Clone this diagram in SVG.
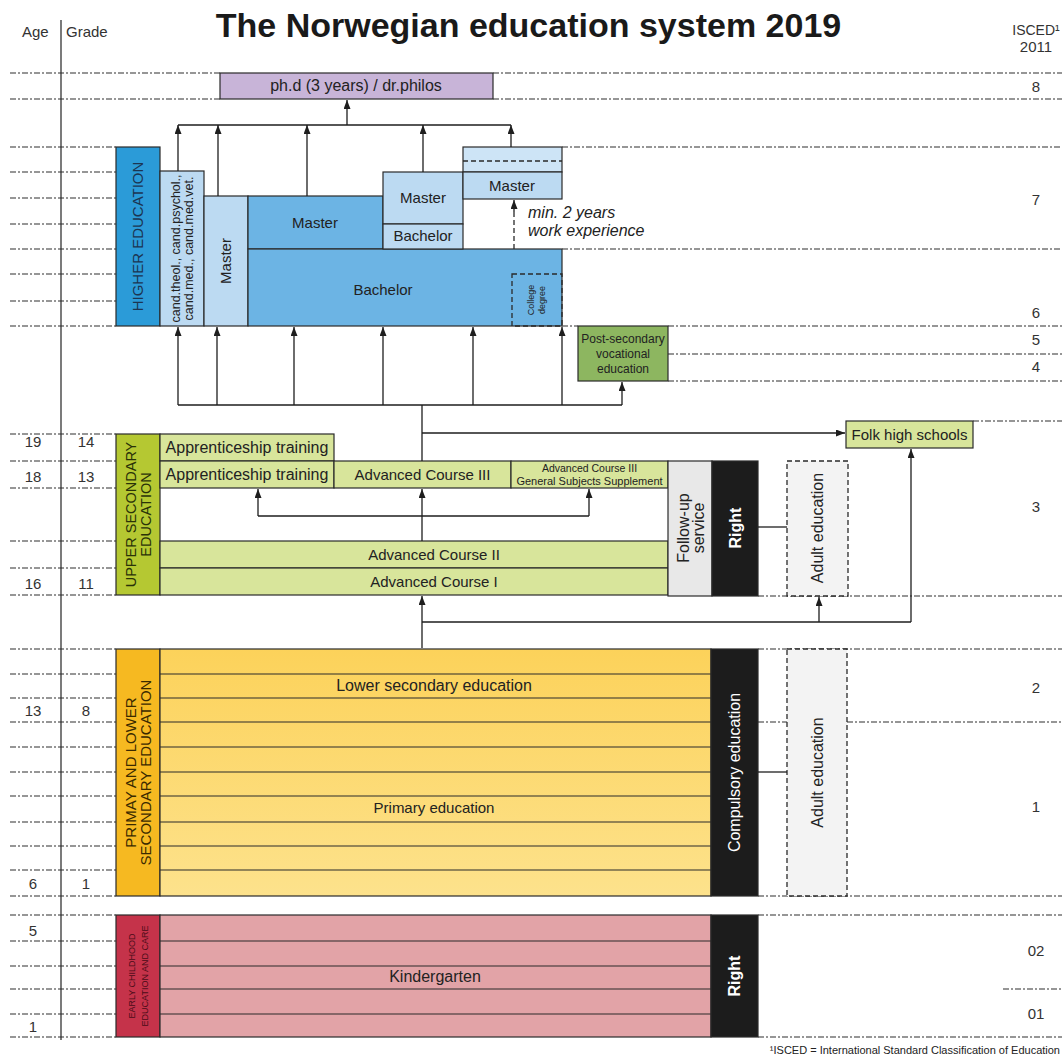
<svg xmlns="http://www.w3.org/2000/svg" width="1062" height="1059" viewBox="0 0 1062 1059">
<defs>
<marker id="ah" viewBox="0 0 9 7" refX="9" refY="3.5" markerWidth="9" markerHeight="7" markerUnits="userSpaceOnUse" orient="auto"><path d="M0,0 L9,3.5 L0,7 z" fill="#1e1e1e"/></marker>
<linearGradient id="ygrad" x1="0" y1="0" x2="0" y2="1"><stop offset="0" stop-color="#fcd25a"/><stop offset="1" stop-color="#fde28c"/></linearGradient>
</defs>
<style>
text{font-family:"Liberation Sans",Arial,sans-serif;fill:#222}
.b{stroke:#2a2a2a;stroke-width:1.2}
.dsh{stroke:#2a2a2a;stroke-width:1.3;stroke-dasharray:5 3}
.grid{stroke:#2e2e2e;stroke-width:1.2;stroke-dasharray:6 2 2 2;fill:none}
.c{stroke:#1e1e1e;stroke-width:1.3;fill:none}
.ca{stroke:#1e1e1e;stroke-width:1.3;fill:none;marker-end:url(#ah)}
.m{text-anchor:middle;font-size:15px}
.w{fill:#fff;font-weight:bold}
.num{font-size:15px;text-anchor:middle;fill:#333}
.lb{fill:#bcdaf2}
.mb{fill:#6cb4e4}
.yg{fill:#d8e59b}
.blk{fill:#1c1c1c}
.ad{fill:#f3f3f3}
.kg{fill:#e2a3a7}
</style>
<rect width="1062" height="1059" fill="#fff"/>

<g id="header">
<text x="528.5" y="37" text-anchor="middle" style="font-size:34px;font-weight:bold;fill:#1a1a1a">The Norwegian education system 2019</text>
<text x="22" y="37" style="font-size:15px;fill:#333">Age</text>
<text x="66" y="37" style="font-size:15px;fill:#333">Grade</text>
<text x="1036" y="35" text-anchor="middle" style="font-size:14px;fill:#333">ISCED¹</text>
<text x="1036" y="52" text-anchor="middle" style="font-size:15px;fill:#333">2011</text>
<line x1="61" y1="20" x2="61" y2="1040" stroke="#333" stroke-width="1.3"/>
</g>

<g id="grid">
<path class="grid" d="M10,73H220M10,99H220M493,73H1062M493,99H1062
M10,147H116M10,172H116M10,198H116M10,224H116M10,249H116M10,274H116M10,301H116M10,326H116
M562,147H1062M562,249H1062M562,326H578M668,326H1062M668,354H1062M668,381H1062
M10,434H116M10,461H116M10,488H116M10,541H116M10,568H116M10,595H116M973,421H1062M758,596H1062
M10,649H116M10,674H116M10,698H116M10,722H116M10,747H116M10,772H116M10,796H116M10,822H116M10,846H116M10,870H116M10,896H116
M758,649H1062M758,722H787M847,722H1062M758,896H1062
M10,915H116M10,941H116M10,966H116M10,989H116M10,1014H116M10,1037H116
M758,915H1062M1003,989H1062M758,1037H1062"/>
</g>

<g id="labels-left">
<text class="num" x="33" y="447">19</text><text class="num" x="86" y="447">14</text>
<text class="num" x="33" y="482">18</text><text class="num" x="86" y="482">13</text>
<text class="num" x="33" y="589">16</text><text class="num" x="86" y="589">11</text>
<text class="num" x="33" y="716">13</text><text class="num" x="86" y="716">8</text>
<text class="num" x="33" y="889">6</text><text class="num" x="86" y="889">1</text>
<text class="num" x="33" y="936">5</text>
<text class="num" x="33" y="1032">1</text>
</g>

<g id="labels-isced">
<text class="num" x="1036" y="92">8</text>
<text class="num" x="1036" y="205">7</text>
<text class="num" x="1036" y="318">6</text>
<text class="num" x="1036" y="345">5</text>
<text class="num" x="1036" y="372">4</text>
<text class="num" x="1036" y="512">3</text>
<text class="num" x="1036" y="693">2</text>
<text class="num" x="1036" y="812">1</text>
<text class="num" x="1036" y="956">02</text>
<text class="num" x="1036" y="1019">01</text>
</g>

<g id="phd">
<rect x="220" y="73" width="273" height="26" fill="#c8b4d8" class="b"/>
<text class="m" x="356" y="91" style="font-size:16px">ph.d (3 years) / dr.philos</text>
</g>

<g id="higher-education-label">
<rect x="116" y="147" width="44" height="179" fill="#2b9bd8" class="b"/>
<text transform="translate(138,236.5) rotate(-90)" dy="0.35em" class="m" style="fill:#1c3552">HIGHER EDUCATION</text>
</g>

<g id="cand">
<rect x="160" y="171" width="44" height="155" class="b lb"/>
<text transform="translate(182,248.5) rotate(-90)" class="m" style="font-size:12.5px"><tspan x="0" dy="-2">cand.theol., cand.psychol.,</tspan><tspan x="0" dy="13">cand.med., cand.med.vet.</tspan></text>
</g>

<g id="master-integrated">
<rect x="204" y="196" width="44" height="130" class="b lb"/>
<text transform="translate(226,261) rotate(-90)" dy="0.35em" class="m">Master</text>
</g>

<g id="master-2yr">
<rect x="248" y="196" width="135" height="53" class="b mb"/>
<text class="m" x="315" y="228">Master</text>
</g>

<g id="bachelor">
<rect x="248" y="249" width="314" height="77" class="b mb"/>
<text class="m" x="383" y="295">Bachelor</text>
</g>

<g id="college-degree">
<rect x="512" y="274" width="50" height="52" fill="none" class="dsh"/>
<text transform="translate(536,300) rotate(-90)" class="m" style="font-size:9px"><tspan x="0" dy="-2">College</tspan><tspan x="0" dy="11">degree</tspan></text>
</g>

<g id="master-bachelor-stack">
<rect x="383" y="172" width="80" height="52" class="b lb"/>
<text class="m" x="423" y="203">Master</text>
<rect x="383" y="224" width="80" height="25" class="b lb"/>
<text class="m" x="423" y="241">Bachelor</text>
</g>

<g id="master-experience">
<rect x="463" y="147" width="99" height="25" fill="#cde4f6" class="b"/>
<line x1="463" y1="161" x2="562" y2="161" class="dsh"/>
<rect x="463" y="172" width="99" height="27" class="b lb"/>
<text class="m" x="512" y="191">Master</text>
<text x="528" y="218" style="font-size:16px;font-style:italic">min. 2 years</text>
<text x="528" y="236" style="font-size:16px;font-style:italic">work experience</text>
</g>

<g id="post-secondary">
<rect x="578" y="326" width="90" height="55" fill="#8db660" class="b"/>
<text class="m" x="623" y="343" style="font-size:12px">Post-secondary</text>
<text class="m" x="623" y="358" style="font-size:12px">vocational</text>
<text class="m" x="623" y="373" style="font-size:12px">education</text>
</g>

<g id="upper-secondary-label">
<rect x="116" y="434" width="44" height="161" fill="#b5c832" class="b"/>
<text transform="translate(138,514.5) rotate(-90)" class="m" style="font-size:14.5px;fill:#2a3208"><tspan x="0" dy="-2.5">UPPER SECONDARY</tspan><tspan x="0" dy="15">EDUCATION</tspan></text>
</g>

<g id="apprenticeship-2">
<rect x="160" y="434" width="174" height="27" class="b yg"/>
<text class="m" x="247" y="453" style="font-size:16px">Apprenticeship training</text>
</g>
<g id="apprenticeship-1">
<rect x="160" y="461" width="174" height="27" class="b yg"/>
<text class="m" x="247" y="480" style="font-size:16px">Apprenticeship training</text>
</g>
<g id="advanced-course-3">
<rect x="334" y="461" width="177" height="27" class="b yg"/>
<text class="m" x="422.5" y="480">Advanced Course III</text>
</g>
<g id="advanced-course-3-gss">
<rect x="511" y="461" width="157" height="27" class="b yg"/>
<text class="m" x="589.5" y="472" style="font-size:10.5px">Advanced Course III</text>
<text class="m" x="589.5" y="485" style="font-size:11px">General Subjects Supplement</text>
</g>
<g id="advanced-course-2">
<rect x="160" y="541" width="508" height="27" class="b yg"/>
<text class="m" x="434" y="560">Advanced Course II</text>
</g>
<g id="advanced-course-1">
<rect x="160" y="568" width="508" height="27" class="b yg"/>
<text class="m" x="434" y="587">Advanced Course I</text>
</g>

<g id="follow-up">
<rect x="668" y="461" width="44" height="135" fill="#e8e8e8" class="b"/>
<text transform="translate(690,528) rotate(-90)" class="m" style="font-size:16px"><tspan x="0" dy="-1">Follow-up</tspan><tspan x="0" dy="15">service</tspan></text>
</g>
<g id="right-upper">
<rect x="712" y="461" width="46" height="135" class="b blk"/>
<text transform="translate(735,528) rotate(-90)" dy="0.35em" class="m w" style="font-size:16px">Right</text>
</g>
<g id="adult-education-upper">
<rect x="787" y="461" width="61" height="135" class="dsh ad"/>
<text transform="translate(817.5,528) rotate(-90)" dy="0.35em" class="m" style="font-size:16px">Adult education</text>
</g>
<g id="folk-high-schools">
<rect x="846" y="421" width="127" height="27" class="b yg"/>
<text class="m" x="909.5" y="440">Folk high schools</text>
</g>

<g id="primary-label">
<rect x="116" y="649" width="44" height="247" fill="#f6b921" class="b"/>
<text transform="translate(138,772.5) rotate(-90)" class="m" style="fill:#3a2a00"><tspan x="0" dy="-2.5">PRIMAY AND LOWER</tspan><tspan x="0" dy="15">SECONDARY EDUCATION</tspan></text>
</g>
<g id="primary-lower-secondary">
<rect x="160" y="649" width="551" height="247" fill="url(#ygrad)" class="b"/>
<path class="b" d="M160,674H711M160,698H711M160,722H711M160,747H711M160,772H711M160,796H711M160,822H711M160,846H711M160,870H711"/>
<text class="m" x="434" y="691" style="font-size:16px">Lower secondary education</text>
<text class="m" x="434" y="813">Primary education</text>
</g>
<g id="compulsory">
<rect x="711" y="649" width="47" height="247" class="b blk"/>
<text transform="translate(734.5,772.5) rotate(-90)" dy="0.35em" class="m" style="font-size:16px;fill:#fff">Compulsory education</text>
</g>
<g id="adult-education-lower">
<rect x="787" y="649" width="60" height="247" class="dsh ad"/>
<text transform="translate(817,772.5) rotate(-90)" dy="0.35em" class="m" style="font-size:16px">Adult education</text>
</g>

<g id="kindergarten-label">
<rect x="116" y="915" width="44" height="122" fill="#c5334a" class="b"/>
<text transform="translate(138,976) rotate(-90)" class="m" style="font-size:9px;fill:#4a0c18"><tspan x="0" dy="-3">EARLY CHILDHOOD</tspan><tspan x="0" dy="13">EDUCATION AND CARE</tspan></text>
</g>
<g id="kindergarten">
<rect x="160" y="915" width="551" height="122" class="b kg"/>
<path class="b" d="M160,941H711M160,966H711M160,989H711M160,1014H711"/>
<text class="m" x="435" y="982" style="font-size:16px">Kindergarten</text>
</g>
<g id="right-kindergarten">
<rect x="711" y="915" width="47" height="122" class="b blk"/>
<text transform="translate(734.5,976) rotate(-90)" dy="0.35em" class="m w" style="font-size:16px">Right</text>
</g>

<g id="connectors">
<path class="ca" d="M347,125V100"/>
<path class="c" d="M178,125H511"/>
<path class="ca" d="M178,171V125"/>
<path class="ca" d="M218,196V125"/>
<path class="ca" d="M307,196V125"/>
<path class="ca" d="M423,172V125"/>
<path class="ca" d="M511,147V125"/>
<path class="dsh" fill="none" d="M514,249V206"/>
<path class="ca" d="M514,212V200"/>
<path class="c" d="M178,405H622"/>
<path class="ca" d="M178,405V327"/>
<path class="ca" d="M217,405V327"/>
<path class="ca" d="M294,405V327"/>
<path class="ca" d="M383,405V327"/>
<path class="ca" d="M473,405V327"/>
<path class="ca" d="M562,405V327"/>
<path class="ca" d="M622,405V382"/>
<path class="c" d="M422,461V405"/>
<path class="ca" d="M422,433H845"/>
<path class="ca" d="M422,541V489"/>
<path class="c" d="M258,516H589"/>
<path class="ca" d="M258,516V489"/>
<path class="ca" d="M589,516V489"/>
<path class="ca" d="M422,648V596"/>
<path class="c" d="M422,622H911"/>
<path class="ca" d="M911,622V449"/>
<path class="ca" d="M819,622V597"/>
<path class="c" d="M758,527H787"/>
<path class="c" d="M758,772H787"/>
</g>

<g id="footnote">
<text x="1060" y="1054" text-anchor="end" style="font-size:11px;fill:#222">¹ISCED = International Standard Classification of Education</text>
</g>
</svg>
